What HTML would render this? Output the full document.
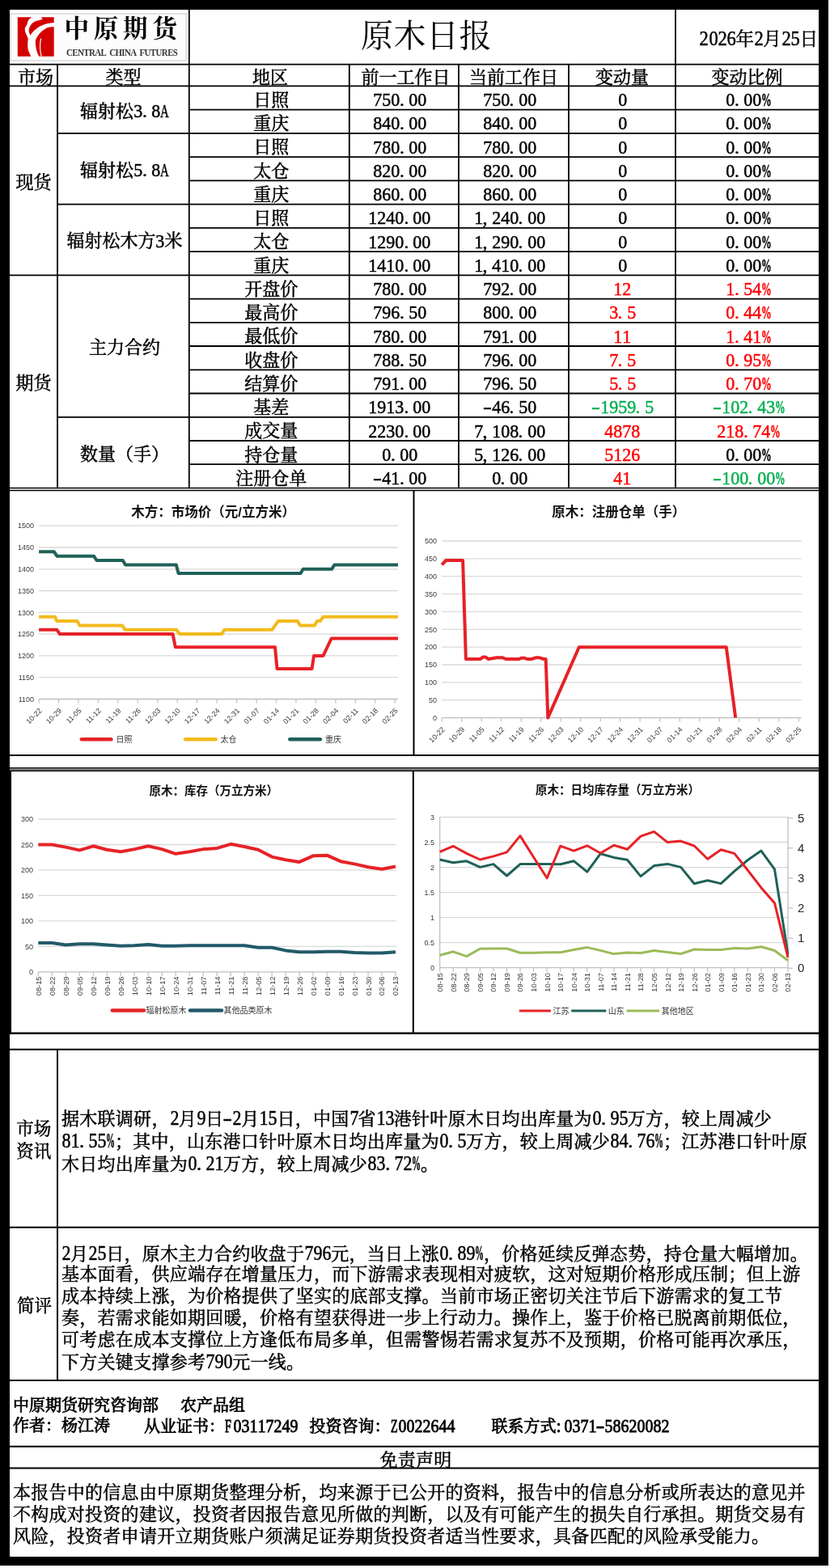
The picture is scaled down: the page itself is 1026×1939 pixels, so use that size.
<!DOCTYPE html>
<html><head><meta charset="utf-8"><title>原木日报</title><style>
html,body{margin:0;padding:0;background:#fff;}
body{width:1026px;height:1939px;position:relative;overflow:hidden;font-family:'Liberation Serif','Noto Serif CJK SC',serif;color:#000;}
svg.bg{position:absolute;left:0;top:0;}
.c{position:absolute;display:flex;align-items:center;justify-content:center;white-space:nowrap;font-size:22px;line-height:1;-webkit-text-stroke:.5px currentColor;}
.t{position:absolute;white-space:nowrap;line-height:1;}
i{font-style:normal;}
.h1,.h2{display:inline-block;text-align:center;line-height:1;}
.h1{font-size:1.064em;width:.47em;transform:scaleX(.94);}
.h2{font-size:1.11em;width:.45em;transform:scaleX(.9);}
.hl{text-align:left;transform:none;}
.hpc{transform:scaleX(.45);transform-origin:0 50%;font-weight:bold;}
.h1.hpc{transform:scaleX(.54);}
.hal{transform:scaleX(.64);transform-origin:0 50%;}
.hmn{transform:scaleX(1.4);}
.th{font-size:22px;}
.td{font-size:22px;}
.tb{}
.logo{font-family:'Liberation Serif','Noto Serif CJK SC',serif;font-weight:700;font-size:30.5px;letter-spacing:5.8px;line-height:1;}
.logoen{font-family:'Liberation Serif',serif;font-weight:bold;font-size:12px;color:#333;letter-spacing:-0.6px;word-spacing:2.5px;transform:scaleX(.905);transform-origin:0 0;}
.title{font-family:'Liberation Serif','Noto Serif CJK SC',serif;font-size:40px;letter-spacing:0.5px;}
.date{font-size:22.6px;-webkit-text-stroke:.5px #000;}
.lab{font-size:21.5px;line-height:28px;-webkit-text-stroke:.5px #000;}
.para{font-size:22px;letter-spacing:.28px;-webkit-text-stroke:.5px #000;}
.foot{font-size:20px;-webkit-text-stroke:.8px #000;}
.disc{font-size:22px;letter-spacing:.27px;-webkit-text-stroke:.5px #000;}
</style></head>
<body>
<svg class="bg" width="1026" height="1939" viewBox="0 0 1026 1939">
<rect x="0.0" y="0.0" width="1024.0" height="1936.0" fill="#000"/>
<rect x="12.0" y="12.0" width="1000.0" height="1913.0" fill="#fff"/>
<line x1="233.8" y1="12.0" x2="233.8" y2="603.5" stroke="#000" stroke-width="1.8"/>
<line x1="835.0" y1="12.0" x2="835.0" y2="603.5" stroke="#000" stroke-width="1.8"/>
<line x1="71.0" y1="79.6" x2="71.0" y2="603.5" stroke="#000" stroke-width="1.8"/>
<line x1="431.8" y1="79.6" x2="431.8" y2="603.5" stroke="#000" stroke-width="1.8"/>
<line x1="567.0" y1="79.6" x2="567.0" y2="603.5" stroke="#000" stroke-width="1.8"/>
<line x1="703.0" y1="79.6" x2="703.0" y2="603.5" stroke="#000" stroke-width="1.8"/>
<line x1="12.0" y1="79.6" x2="1012.0" y2="79.6" stroke="#000" stroke-width="1.8"/>
<line x1="12.0" y1="106.4" x2="1012.0" y2="106.4" stroke="#000" stroke-width="1.8"/>
<line x1="233.8" y1="135.6" x2="1012.0" y2="135.6" stroke="#000" stroke-width="1.8"/>
<line x1="71.0" y1="164.9" x2="1012.0" y2="164.9" stroke="#000" stroke-width="1.8"/>
<line x1="233.8" y1="194.1" x2="1012.0" y2="194.1" stroke="#000" stroke-width="1.8"/>
<line x1="233.8" y1="223.4" x2="1012.0" y2="223.4" stroke="#000" stroke-width="1.8"/>
<line x1="71.0" y1="252.6" x2="1012.0" y2="252.6" stroke="#000" stroke-width="1.8"/>
<line x1="233.8" y1="281.8" x2="1012.0" y2="281.8" stroke="#000" stroke-width="1.8"/>
<line x1="233.8" y1="311.1" x2="1012.0" y2="311.1" stroke="#000" stroke-width="1.8"/>
<line x1="12.0" y1="340.3" x2="1012.0" y2="340.3" stroke="#000" stroke-width="1.8"/>
<line x1="233.8" y1="369.6" x2="1012.0" y2="369.6" stroke="#000" stroke-width="1.8"/>
<line x1="233.8" y1="398.8" x2="1012.0" y2="398.8" stroke="#000" stroke-width="1.8"/>
<line x1="233.8" y1="428.0" x2="1012.0" y2="428.0" stroke="#000" stroke-width="1.8"/>
<line x1="233.8" y1="457.3" x2="1012.0" y2="457.3" stroke="#000" stroke-width="1.8"/>
<line x1="233.8" y1="486.5" x2="1012.0" y2="486.5" stroke="#000" stroke-width="1.8"/>
<line x1="71.0" y1="515.8" x2="1012.0" y2="515.8" stroke="#000" stroke-width="1.8"/>
<line x1="233.8" y1="545.0" x2="1012.0" y2="545.0" stroke="#000" stroke-width="1.8"/>
<line x1="233.8" y1="574.2" x2="1012.0" y2="574.2" stroke="#000" stroke-width="1.8"/>
<line x1="12.0" y1="603.5" x2="1012.0" y2="603.5" stroke="#000" stroke-width="1.6"/>
<line x1="12.0" y1="606.5" x2="1012.0" y2="606.5" stroke="#000" stroke-width="1.6"/>
<rect x="13.0" y="17.0" width="217.0" height="58.0" fill="#fdfdfd" stroke="#d8d8d8" stroke-width="1.5"/>
<g>
<path d="M21.8,21.3 L39.3,21.3 C37,23 35,24.5 34.7,25.6 L33.2,30.7 C31.5,33 30.7,34.5 30.7,35.7 C30.9,38 31.2,39.5 31.7,40.8 C33,44 34.5,46.5 34.7,48.4 L34.2,53.5 C34.1,57 34.3,59 34.7,61.1 C35.5,64.5 36.8,67 38.3,69.7 L21.8,69.7 Z" fill="#d40000"/>
<path d="M50.9,21.3 L66.7,21.3 L66.7,28.1 C61,28.5 57,29.3 53.5,30.7 C50.5,31.8 48,33.2 45.9,34.7 C43.9,36.1 42.2,37.6 40.8,39.3 C39.3,41 38.2,42.4 37.3,43.8 C36.5,42 35.9,40.2 35.7,38.3 C35.6,36 36.2,34 37.3,32.2 C38.3,30.5 39.4,29.2 40.8,28.1 C42.5,26.8 44.3,26.1 46.4,25.6 C48.4,25 50.4,24.5 52.5,24.1 C52.2,23 51.6,22.2 50.9,21.3 Z" fill="#d40000"/>
<path d="M66.7,33.2 L66.7,69.7 L48.4,69.7 C47.3,68.5 46.8,67.3 46.4,66.1 C45.4,63.5 44.7,61 44.4,58.5 C44,56 43.8,53.5 43.8,51 C44,48.8 44.9,46.8 46.4,44.9 C47.6,43 49.2,41 51,39.3 C53.5,37 56,35.4 58.5,34.2 C61,33.5 63.5,33.2 66.7,33.2 Z" fill="#d40000"/>
<path d="M50.6,47.5 C49.6,52 49.4,56 49.6,60 C49.8,64 50.4,67 51.2,69.7" fill="none" stroke="#f4dede" stroke-width="1.4"/>
</g>
<line x1="12.0" y1="934.0" x2="1012.0" y2="934.0" stroke="#000" stroke-width="2"/>
<line x1="511.5" y1="606.5" x2="511.5" y2="934.0" stroke="#000" stroke-width="2"/>
<line x1="12.0" y1="949.8" x2="1012.0" y2="949.8" stroke="#000" stroke-width="1.5"/>
<line x1="12.0" y1="951.6" x2="1012.0" y2="951.6" stroke="#777" stroke-width="2"/>
<line x1="12.0" y1="953.3" x2="1012.0" y2="953.3" stroke="#000" stroke-width="1.5"/>
<line x1="510.8" y1="953.0" x2="510.8" y2="1277.7" stroke="#000" stroke-width="2"/>
<rect x="12.0" y="953.0" width="2.0" height="325.0" fill="#000"/>
<line x1="12.0" y1="1277.7" x2="1012.0" y2="1277.7" stroke="#000" stroke-width="2.4"/>
<line x1="12.0" y1="1297.7" x2="1012.0" y2="1297.7" stroke="#000" stroke-width="2"/>
<line x1="71.0" y1="1297.7" x2="71.0" y2="1707.0" stroke="#000" stroke-width="2"/>
<line x1="12.0" y1="1517.7" x2="1012.0" y2="1517.7" stroke="#000" stroke-width="2"/>
<line x1="12.0" y1="1707.0" x2="1012.0" y2="1707.0" stroke="#000" stroke-width="2"/>
<line x1="12.0" y1="1788.8" x2="1012.0" y2="1788.8" stroke="#000" stroke-width="2"/>
<line x1="12.0" y1="1815.5" x2="1012.0" y2="1815.5" stroke="#000" stroke-width="2"/>
<line x1="48.1" y1="837.7" x2="492.0" y2="837.7" stroke="#d9d9d9" stroke-width="1.3"/>
<line x1="48.1" y1="810.9" x2="492.0" y2="810.9" stroke="#d9d9d9" stroke-width="1.3"/>
<line x1="48.1" y1="784.1" x2="492.0" y2="784.1" stroke="#d9d9d9" stroke-width="1.3"/>
<line x1="48.1" y1="757.3" x2="492.0" y2="757.3" stroke="#d9d9d9" stroke-width="1.3"/>
<line x1="48.1" y1="730.5" x2="492.0" y2="730.5" stroke="#d9d9d9" stroke-width="1.3"/>
<line x1="48.1" y1="703.8" x2="492.0" y2="703.8" stroke="#d9d9d9" stroke-width="1.3"/>
<line x1="48.1" y1="677.0" x2="492.0" y2="677.0" stroke="#d9d9d9" stroke-width="1.3"/>
<line x1="48.1" y1="650.2" x2="492.0" y2="650.2" stroke="#d9d9d9" stroke-width="1.3"/>
<text x="42.0" y="867.7" font-size="9" text-anchor="end" fill="#3a3a3a" font-family="'Liberation Sans','Noto Sans CJK SC',sans-serif" font-weight="normal">1100</text>
<text x="42.0" y="840.9" font-size="9" text-anchor="end" fill="#3a3a3a" font-family="'Liberation Sans','Noto Sans CJK SC',sans-serif" font-weight="normal">1150</text>
<text x="42.0" y="814.1" font-size="9" text-anchor="end" fill="#3a3a3a" font-family="'Liberation Sans','Noto Sans CJK SC',sans-serif" font-weight="normal">1200</text>
<text x="42.0" y="787.3" font-size="9" text-anchor="end" fill="#3a3a3a" font-family="'Liberation Sans','Noto Sans CJK SC',sans-serif" font-weight="normal">1250</text>
<text x="42.0" y="760.5" font-size="9" text-anchor="end" fill="#3a3a3a" font-family="'Liberation Sans','Noto Sans CJK SC',sans-serif" font-weight="normal">1300</text>
<text x="42.0" y="733.8" font-size="9" text-anchor="end" fill="#3a3a3a" font-family="'Liberation Sans','Noto Sans CJK SC',sans-serif" font-weight="normal">1350</text>
<text x="42.0" y="707.0" font-size="9" text-anchor="end" fill="#3a3a3a" font-family="'Liberation Sans','Noto Sans CJK SC',sans-serif" font-weight="normal">1400</text>
<text x="42.0" y="680.2" font-size="9" text-anchor="end" fill="#3a3a3a" font-family="'Liberation Sans','Noto Sans CJK SC',sans-serif" font-weight="normal">1450</text>
<text x="42.0" y="653.4" font-size="9" text-anchor="end" fill="#3a3a3a" font-family="'Liberation Sans','Noto Sans CJK SC',sans-serif" font-weight="normal">1500</text>
<line x1="48.1" y1="864.5" x2="492.0" y2="864.5" stroke="#bfbfbf" stroke-width="1.3"/>
<line x1="48.1" y1="864.5" x2="48.1" y2="869.5" stroke="#bfbfbf" stroke-width="1.2"/>
<text x="52.3" y="879.5" font-size="9" text-anchor="end" fill="#3a3a3a" font-family="'Liberation Sans','Noto Sans CJK SC',sans-serif" font-weight="normal" transform="rotate(-45 52.3 879.5)">10-22</text>
<line x1="72.5" y1="864.5" x2="72.5" y2="869.5" stroke="#bfbfbf" stroke-width="1.2"/>
<text x="76.8" y="879.5" font-size="9" text-anchor="end" fill="#3a3a3a" font-family="'Liberation Sans','Noto Sans CJK SC',sans-serif" font-weight="normal" transform="rotate(-45 76.8 879.5)">10-29</text>
<line x1="97.0" y1="864.5" x2="97.0" y2="869.5" stroke="#bfbfbf" stroke-width="1.2"/>
<text x="101.2" y="879.5" font-size="9" text-anchor="end" fill="#3a3a3a" font-family="'Liberation Sans','Noto Sans CJK SC',sans-serif" font-weight="normal" transform="rotate(-45 101.2 879.5)">11-05</text>
<line x1="121.4" y1="864.5" x2="121.4" y2="869.5" stroke="#bfbfbf" stroke-width="1.2"/>
<text x="125.6" y="879.5" font-size="9" text-anchor="end" fill="#3a3a3a" font-family="'Liberation Sans','Noto Sans CJK SC',sans-serif" font-weight="normal" transform="rotate(-45 125.6 879.5)">11-12</text>
<line x1="145.9" y1="864.5" x2="145.9" y2="869.5" stroke="#bfbfbf" stroke-width="1.2"/>
<text x="150.1" y="879.5" font-size="9" text-anchor="end" fill="#3a3a3a" font-family="'Liberation Sans','Noto Sans CJK SC',sans-serif" font-weight="normal" transform="rotate(-45 150.1 879.5)">11-19</text>
<line x1="170.3" y1="864.5" x2="170.3" y2="869.5" stroke="#bfbfbf" stroke-width="1.2"/>
<text x="174.5" y="879.5" font-size="9" text-anchor="end" fill="#3a3a3a" font-family="'Liberation Sans','Noto Sans CJK SC',sans-serif" font-weight="normal" transform="rotate(-45 174.5 879.5)">11-26</text>
<line x1="194.8" y1="864.5" x2="194.8" y2="869.5" stroke="#bfbfbf" stroke-width="1.2"/>
<text x="199.0" y="879.5" font-size="9" text-anchor="end" fill="#3a3a3a" font-family="'Liberation Sans','Noto Sans CJK SC',sans-serif" font-weight="normal" transform="rotate(-45 199.0 879.5)">12-03</text>
<line x1="219.2" y1="864.5" x2="219.2" y2="869.5" stroke="#bfbfbf" stroke-width="1.2"/>
<text x="223.4" y="879.5" font-size="9" text-anchor="end" fill="#3a3a3a" font-family="'Liberation Sans','Noto Sans CJK SC',sans-serif" font-weight="normal" transform="rotate(-45 223.4 879.5)">12-10</text>
<line x1="243.7" y1="864.5" x2="243.7" y2="869.5" stroke="#bfbfbf" stroke-width="1.2"/>
<text x="247.9" y="879.5" font-size="9" text-anchor="end" fill="#3a3a3a" font-family="'Liberation Sans','Noto Sans CJK SC',sans-serif" font-weight="normal" transform="rotate(-45 247.9 879.5)">12-17</text>
<line x1="268.1" y1="864.5" x2="268.1" y2="869.5" stroke="#bfbfbf" stroke-width="1.2"/>
<text x="272.3" y="879.5" font-size="9" text-anchor="end" fill="#3a3a3a" font-family="'Liberation Sans','Noto Sans CJK SC',sans-serif" font-weight="normal" transform="rotate(-45 272.3 879.5)">12-24</text>
<line x1="292.6" y1="864.5" x2="292.6" y2="869.5" stroke="#bfbfbf" stroke-width="1.2"/>
<text x="296.8" y="879.5" font-size="9" text-anchor="end" fill="#3a3a3a" font-family="'Liberation Sans','Noto Sans CJK SC',sans-serif" font-weight="normal" transform="rotate(-45 296.8 879.5)">12-31</text>
<line x1="317.1" y1="864.5" x2="317.1" y2="869.5" stroke="#bfbfbf" stroke-width="1.2"/>
<text x="321.2" y="879.5" font-size="9" text-anchor="end" fill="#3a3a3a" font-family="'Liberation Sans','Noto Sans CJK SC',sans-serif" font-weight="normal" transform="rotate(-45 321.2 879.5)">01-07</text>
<line x1="341.5" y1="864.5" x2="341.5" y2="869.5" stroke="#bfbfbf" stroke-width="1.2"/>
<text x="345.7" y="879.5" font-size="9" text-anchor="end" fill="#3a3a3a" font-family="'Liberation Sans','Noto Sans CJK SC',sans-serif" font-weight="normal" transform="rotate(-45 345.7 879.5)">01-14</text>
<line x1="365.9" y1="864.5" x2="365.9" y2="869.5" stroke="#bfbfbf" stroke-width="1.2"/>
<text x="370.1" y="879.5" font-size="9" text-anchor="end" fill="#3a3a3a" font-family="'Liberation Sans','Noto Sans CJK SC',sans-serif" font-weight="normal" transform="rotate(-45 370.1 879.5)">01-21</text>
<line x1="390.4" y1="864.5" x2="390.4" y2="869.5" stroke="#bfbfbf" stroke-width="1.2"/>
<text x="394.6" y="879.5" font-size="9" text-anchor="end" fill="#3a3a3a" font-family="'Liberation Sans','Noto Sans CJK SC',sans-serif" font-weight="normal" transform="rotate(-45 394.6 879.5)">01-28</text>
<line x1="414.9" y1="864.5" x2="414.9" y2="869.5" stroke="#bfbfbf" stroke-width="1.2"/>
<text x="419.1" y="879.5" font-size="9" text-anchor="end" fill="#3a3a3a" font-family="'Liberation Sans','Noto Sans CJK SC',sans-serif" font-weight="normal" transform="rotate(-45 419.1 879.5)">02-04</text>
<line x1="439.3" y1="864.5" x2="439.3" y2="869.5" stroke="#bfbfbf" stroke-width="1.2"/>
<text x="443.5" y="879.5" font-size="9" text-anchor="end" fill="#3a3a3a" font-family="'Liberation Sans','Noto Sans CJK SC',sans-serif" font-weight="normal" transform="rotate(-45 443.5 879.5)">02-11</text>
<line x1="463.8" y1="864.5" x2="463.8" y2="869.5" stroke="#bfbfbf" stroke-width="1.2"/>
<text x="467.9" y="879.5" font-size="9" text-anchor="end" fill="#3a3a3a" font-family="'Liberation Sans','Noto Sans CJK SC',sans-serif" font-weight="normal" transform="rotate(-45 467.9 879.5)">02-18</text>
<line x1="488.2" y1="864.5" x2="488.2" y2="869.5" stroke="#bfbfbf" stroke-width="1.2"/>
<text x="492.4" y="879.5" font-size="9" text-anchor="end" fill="#3a3a3a" font-family="'Liberation Sans','Noto Sans CJK SC',sans-serif" font-weight="normal" transform="rotate(-45 492.4 879.5)">02-25</text>
<text x="263.6" y="638.5" font-size="16.5" text-anchor="middle" fill="#111" font-family="'Liberation Sans','Noto Sans CJK SC',sans-serif" font-weight="bold">木方：市场价（元/立方米）</text>
<polyline points="48.1,778.8 70.4,778.8 74.0,784.1 213.6,784.1 216.8,800.2 340.0,800.2 342.5,827.0 385.6,827.0 388.0,810.9 399.5,810.9 409.7,789.5 492.0,789.5" fill="none" stroke="#e62227" stroke-width="4" stroke-linejoin="round" stroke-linecap="butt"/>
<polyline points="48.1,762.7 68.0,762.7 70.4,768.1 95.4,768.1 98.5,773.4 151.0,773.4 154.6,778.8 218.2,778.8 222.0,784.1 274.0,784.1 277.4,778.8 336.2,778.8 343.8,768.1 367.8,768.1 371.1,773.4 388.9,773.4 392.0,768.1 395.7,768.1 399.5,762.7 492.0,762.7" fill="none" stroke="#f2ba1c" stroke-width="4" stroke-linejoin="round" stroke-linecap="butt"/>
<polyline points="48.1,682.3 66.9,682.3 70.4,687.7 116.0,687.7 119.5,693.0 151.8,693.0 155.0,698.4 217.8,698.4 220.6,709.1 371.6,709.1 374.7,703.8 410.2,703.8 413.5,698.4 492.0,698.4" fill="none" stroke="#1f6158" stroke-width="4" stroke-linejoin="round" stroke-linecap="butt"/>
<line x1="100.8" y1="914.2" x2="137.4" y2="914.2" stroke="#e62227" stroke-width="4.5" stroke-linecap="round"/>
<text x="143.5" y="918.0" font-size="10" text-anchor="start" fill="#333" font-family="'Liberation Sans','Noto Sans CJK SC',sans-serif" font-weight="normal">日照</text>
<line x1="229.0" y1="914.2" x2="266.6" y2="914.2" stroke="#f2ba1c" stroke-width="4.5" stroke-linecap="round"/>
<text x="272.5" y="918.0" font-size="10" text-anchor="start" fill="#333" font-family="'Liberation Sans','Noto Sans CJK SC',sans-serif" font-weight="normal">太仓</text>
<line x1="358.3" y1="914.2" x2="395.9" y2="914.2" stroke="#1f6158" stroke-width="4.5" stroke-linecap="round"/>
<text x="401.9" y="918.0" font-size="10" text-anchor="start" fill="#333" font-family="'Liberation Sans','Noto Sans CJK SC',sans-serif" font-weight="normal">重庆</text>
<line x1="546.2" y1="865.7" x2="990.8" y2="865.7" stroke="#d9d9d9" stroke-width="1.3"/>
<line x1="546.2" y1="843.9" x2="990.8" y2="843.9" stroke="#d9d9d9" stroke-width="1.3"/>
<line x1="546.2" y1="822.0" x2="990.8" y2="822.0" stroke="#d9d9d9" stroke-width="1.3"/>
<line x1="546.2" y1="800.2" x2="990.8" y2="800.2" stroke="#d9d9d9" stroke-width="1.3"/>
<line x1="546.2" y1="778.3" x2="990.8" y2="778.3" stroke="#d9d9d9" stroke-width="1.3"/>
<line x1="546.2" y1="756.4" x2="990.8" y2="756.4" stroke="#d9d9d9" stroke-width="1.3"/>
<line x1="546.2" y1="734.6" x2="990.8" y2="734.6" stroke="#d9d9d9" stroke-width="1.3"/>
<line x1="546.2" y1="712.7" x2="990.8" y2="712.7" stroke="#d9d9d9" stroke-width="1.3"/>
<line x1="546.2" y1="690.9" x2="990.8" y2="690.9" stroke="#d9d9d9" stroke-width="1.3"/>
<line x1="546.2" y1="669.0" x2="990.8" y2="669.0" stroke="#d9d9d9" stroke-width="1.3"/>
<text x="540.0" y="890.8" font-size="9" text-anchor="end" fill="#3a3a3a" font-family="'Liberation Sans','Noto Sans CJK SC',sans-serif" font-weight="normal">0</text>
<text x="540.0" y="868.9" font-size="9" text-anchor="end" fill="#3a3a3a" font-family="'Liberation Sans','Noto Sans CJK SC',sans-serif" font-weight="normal">50</text>
<text x="540.0" y="847.1" font-size="9" text-anchor="end" fill="#3a3a3a" font-family="'Liberation Sans','Noto Sans CJK SC',sans-serif" font-weight="normal">100</text>
<text x="540.0" y="825.2" font-size="9" text-anchor="end" fill="#3a3a3a" font-family="'Liberation Sans','Noto Sans CJK SC',sans-serif" font-weight="normal">150</text>
<text x="540.0" y="803.4" font-size="9" text-anchor="end" fill="#3a3a3a" font-family="'Liberation Sans','Noto Sans CJK SC',sans-serif" font-weight="normal">200</text>
<text x="540.0" y="781.5" font-size="9" text-anchor="end" fill="#3a3a3a" font-family="'Liberation Sans','Noto Sans CJK SC',sans-serif" font-weight="normal">250</text>
<text x="540.0" y="759.6" font-size="9" text-anchor="end" fill="#3a3a3a" font-family="'Liberation Sans','Noto Sans CJK SC',sans-serif" font-weight="normal">300</text>
<text x="540.0" y="737.8" font-size="9" text-anchor="end" fill="#3a3a3a" font-family="'Liberation Sans','Noto Sans CJK SC',sans-serif" font-weight="normal">350</text>
<text x="540.0" y="715.9" font-size="9" text-anchor="end" fill="#3a3a3a" font-family="'Liberation Sans','Noto Sans CJK SC',sans-serif" font-weight="normal">400</text>
<text x="540.0" y="694.1" font-size="9" text-anchor="end" fill="#3a3a3a" font-family="'Liberation Sans','Noto Sans CJK SC',sans-serif" font-weight="normal">450</text>
<text x="540.0" y="672.2" font-size="9" text-anchor="end" fill="#3a3a3a" font-family="'Liberation Sans','Noto Sans CJK SC',sans-serif" font-weight="normal">500</text>
<line x1="546.2" y1="887.6" x2="990.8" y2="887.6" stroke="#bfbfbf" stroke-width="1.3"/>
<line x1="546.2" y1="887.6" x2="546.2" y2="892.6" stroke="#bfbfbf" stroke-width="1.2"/>
<text x="550.4" y="902.6" font-size="9" text-anchor="end" fill="#3a3a3a" font-family="'Liberation Sans','Noto Sans CJK SC',sans-serif" font-weight="normal" transform="rotate(-45 550.4 902.6)">10-22</text>
<line x1="570.7" y1="887.6" x2="570.7" y2="892.6" stroke="#bfbfbf" stroke-width="1.2"/>
<text x="574.9" y="902.6" font-size="9" text-anchor="end" fill="#3a3a3a" font-family="'Liberation Sans','Noto Sans CJK SC',sans-serif" font-weight="normal" transform="rotate(-45 574.9 902.6)">10-29</text>
<line x1="595.2" y1="887.6" x2="595.2" y2="892.6" stroke="#bfbfbf" stroke-width="1.2"/>
<text x="599.4" y="902.6" font-size="9" text-anchor="end" fill="#3a3a3a" font-family="'Liberation Sans','Noto Sans CJK SC',sans-serif" font-weight="normal" transform="rotate(-45 599.4 902.6)">11-05</text>
<line x1="619.7" y1="887.6" x2="619.7" y2="892.6" stroke="#bfbfbf" stroke-width="1.2"/>
<text x="623.9" y="902.6" font-size="9" text-anchor="end" fill="#3a3a3a" font-family="'Liberation Sans','Noto Sans CJK SC',sans-serif" font-weight="normal" transform="rotate(-45 623.9 902.6)">11-12</text>
<line x1="644.2" y1="887.6" x2="644.2" y2="892.6" stroke="#bfbfbf" stroke-width="1.2"/>
<text x="648.4" y="902.6" font-size="9" text-anchor="end" fill="#3a3a3a" font-family="'Liberation Sans','Noto Sans CJK SC',sans-serif" font-weight="normal" transform="rotate(-45 648.4 902.6)">11-19</text>
<line x1="668.7" y1="887.6" x2="668.7" y2="892.6" stroke="#bfbfbf" stroke-width="1.2"/>
<text x="672.9" y="902.6" font-size="9" text-anchor="end" fill="#3a3a3a" font-family="'Liberation Sans','Noto Sans CJK SC',sans-serif" font-weight="normal" transform="rotate(-45 672.9 902.6)">11-26</text>
<line x1="693.2" y1="887.6" x2="693.2" y2="892.6" stroke="#bfbfbf" stroke-width="1.2"/>
<text x="697.4" y="902.6" font-size="9" text-anchor="end" fill="#3a3a3a" font-family="'Liberation Sans','Noto Sans CJK SC',sans-serif" font-weight="normal" transform="rotate(-45 697.4 902.6)">12-03</text>
<line x1="717.7" y1="887.6" x2="717.7" y2="892.6" stroke="#bfbfbf" stroke-width="1.2"/>
<text x="721.9" y="902.6" font-size="9" text-anchor="end" fill="#3a3a3a" font-family="'Liberation Sans','Noto Sans CJK SC',sans-serif" font-weight="normal" transform="rotate(-45 721.9 902.6)">12-10</text>
<line x1="742.2" y1="887.6" x2="742.2" y2="892.6" stroke="#bfbfbf" stroke-width="1.2"/>
<text x="746.4" y="902.6" font-size="9" text-anchor="end" fill="#3a3a3a" font-family="'Liberation Sans','Noto Sans CJK SC',sans-serif" font-weight="normal" transform="rotate(-45 746.4 902.6)">12-17</text>
<line x1="766.7" y1="887.6" x2="766.7" y2="892.6" stroke="#bfbfbf" stroke-width="1.2"/>
<text x="770.9" y="902.6" font-size="9" text-anchor="end" fill="#3a3a3a" font-family="'Liberation Sans','Noto Sans CJK SC',sans-serif" font-weight="normal" transform="rotate(-45 770.9 902.6)">12-24</text>
<line x1="791.2" y1="887.6" x2="791.2" y2="892.6" stroke="#bfbfbf" stroke-width="1.2"/>
<text x="795.4" y="902.6" font-size="9" text-anchor="end" fill="#3a3a3a" font-family="'Liberation Sans','Noto Sans CJK SC',sans-serif" font-weight="normal" transform="rotate(-45 795.4 902.6)">12-31</text>
<line x1="815.7" y1="887.6" x2="815.7" y2="892.6" stroke="#bfbfbf" stroke-width="1.2"/>
<text x="819.9" y="902.6" font-size="9" text-anchor="end" fill="#3a3a3a" font-family="'Liberation Sans','Noto Sans CJK SC',sans-serif" font-weight="normal" transform="rotate(-45 819.9 902.6)">01-07</text>
<line x1="840.2" y1="887.6" x2="840.2" y2="892.6" stroke="#bfbfbf" stroke-width="1.2"/>
<text x="844.4" y="902.6" font-size="9" text-anchor="end" fill="#3a3a3a" font-family="'Liberation Sans','Noto Sans CJK SC',sans-serif" font-weight="normal" transform="rotate(-45 844.4 902.6)">01-14</text>
<line x1="864.7" y1="887.6" x2="864.7" y2="892.6" stroke="#bfbfbf" stroke-width="1.2"/>
<text x="868.9" y="902.6" font-size="9" text-anchor="end" fill="#3a3a3a" font-family="'Liberation Sans','Noto Sans CJK SC',sans-serif" font-weight="normal" transform="rotate(-45 868.9 902.6)">01-21</text>
<line x1="889.2" y1="887.6" x2="889.2" y2="892.6" stroke="#bfbfbf" stroke-width="1.2"/>
<text x="893.4" y="902.6" font-size="9" text-anchor="end" fill="#3a3a3a" font-family="'Liberation Sans','Noto Sans CJK SC',sans-serif" font-weight="normal" transform="rotate(-45 893.4 902.6)">01-28</text>
<line x1="913.7" y1="887.6" x2="913.7" y2="892.6" stroke="#bfbfbf" stroke-width="1.2"/>
<text x="917.9" y="902.6" font-size="9" text-anchor="end" fill="#3a3a3a" font-family="'Liberation Sans','Noto Sans CJK SC',sans-serif" font-weight="normal" transform="rotate(-45 917.9 902.6)">02-04</text>
<line x1="938.2" y1="887.6" x2="938.2" y2="892.6" stroke="#bfbfbf" stroke-width="1.2"/>
<text x="942.4" y="902.6" font-size="9" text-anchor="end" fill="#3a3a3a" font-family="'Liberation Sans','Noto Sans CJK SC',sans-serif" font-weight="normal" transform="rotate(-45 942.4 902.6)">02-11</text>
<line x1="962.7" y1="887.6" x2="962.7" y2="892.6" stroke="#bfbfbf" stroke-width="1.2"/>
<text x="966.9" y="902.6" font-size="9" text-anchor="end" fill="#3a3a3a" font-family="'Liberation Sans','Noto Sans CJK SC',sans-serif" font-weight="normal" transform="rotate(-45 966.9 902.6)">02-18</text>
<line x1="987.2" y1="887.6" x2="987.2" y2="892.6" stroke="#bfbfbf" stroke-width="1.2"/>
<text x="991.4" y="902.6" font-size="9" text-anchor="end" fill="#3a3a3a" font-family="'Liberation Sans','Noto Sans CJK SC',sans-serif" font-weight="normal" transform="rotate(-45 991.4 902.6)">02-25</text>
<text x="764.8" y="638.7" font-size="16.5" text-anchor="middle" fill="#111" font-family="'Liberation Sans','Noto Sans CJK SC',sans-serif" font-weight="bold">原木：注册仓单（手）</text>
<polyline points="546.2,698.3 551.3,693.0 572.1,693.0 575.9,815.0 593.6,815.0 597.4,812.4 600.0,812.4 603.8,815.0 614.0,813.3 621.5,813.3 625.3,815.0 641.8,815.0 644.3,813.7 648.0,813.7 651.5,815.0 657.0,815.0 662.0,813.3 667.0,813.3 672.2,815.0 674.7,815.0 677.3,887.6 715.8,800.2 897.8,800.2 909.2,887.6" fill="none" stroke="#e62227" stroke-width="4" stroke-linejoin="round" stroke-linecap="butt"/>
<line x1="47.3" y1="1170.4" x2="490.0" y2="1170.4" stroke="#d9d9d9" stroke-width="1.3"/>
<line x1="47.3" y1="1138.9" x2="490.0" y2="1138.9" stroke="#d9d9d9" stroke-width="1.3"/>
<line x1="47.3" y1="1107.4" x2="490.0" y2="1107.4" stroke="#d9d9d9" stroke-width="1.3"/>
<line x1="47.3" y1="1075.9" x2="490.0" y2="1075.9" stroke="#d9d9d9" stroke-width="1.3"/>
<line x1="47.3" y1="1044.5" x2="490.0" y2="1044.5" stroke="#d9d9d9" stroke-width="1.3"/>
<line x1="47.3" y1="1013.0" x2="490.0" y2="1013.0" stroke="#d9d9d9" stroke-width="1.3"/>
<text x="41.0" y="1205.1" font-size="9" text-anchor="end" fill="#3a3a3a" font-family="'Liberation Sans','Noto Sans CJK SC',sans-serif" font-weight="normal">0</text>
<text x="41.0" y="1173.6" font-size="9" text-anchor="end" fill="#3a3a3a" font-family="'Liberation Sans','Noto Sans CJK SC',sans-serif" font-weight="normal">50</text>
<text x="41.0" y="1142.1" font-size="9" text-anchor="end" fill="#3a3a3a" font-family="'Liberation Sans','Noto Sans CJK SC',sans-serif" font-weight="normal">100</text>
<text x="41.0" y="1110.6" font-size="9" text-anchor="end" fill="#3a3a3a" font-family="'Liberation Sans','Noto Sans CJK SC',sans-serif" font-weight="normal">150</text>
<text x="41.0" y="1079.1" font-size="9" text-anchor="end" fill="#3a3a3a" font-family="'Liberation Sans','Noto Sans CJK SC',sans-serif" font-weight="normal">200</text>
<text x="41.0" y="1047.7" font-size="9" text-anchor="end" fill="#3a3a3a" font-family="'Liberation Sans','Noto Sans CJK SC',sans-serif" font-weight="normal">250</text>
<text x="41.0" y="1016.2" font-size="9" text-anchor="end" fill="#3a3a3a" font-family="'Liberation Sans','Noto Sans CJK SC',sans-serif" font-weight="normal">300</text>
<line x1="47.3" y1="1201.9" x2="490.0" y2="1201.9" stroke="#bfbfbf" stroke-width="1.3"/>
<line x1="47.3" y1="1201.9" x2="47.3" y2="1206.9" stroke="#bfbfbf" stroke-width="1.2"/>
<text x="50.7" y="1207.5" font-size="9.3" text-anchor="end" fill="#3a3a3a" font-family="'Liberation Sans','Noto Sans CJK SC',sans-serif" font-weight="normal" transform="rotate(-90 50.7 1207.5)">08-15</text>
<line x1="64.3" y1="1201.9" x2="64.3" y2="1206.9" stroke="#bfbfbf" stroke-width="1.2"/>
<text x="67.7" y="1207.5" font-size="9.3" text-anchor="end" fill="#3a3a3a" font-family="'Liberation Sans','Noto Sans CJK SC',sans-serif" font-weight="normal" transform="rotate(-90 67.7 1207.5)">08-22</text>
<line x1="81.3" y1="1201.9" x2="81.3" y2="1206.9" stroke="#bfbfbf" stroke-width="1.2"/>
<text x="84.7" y="1207.5" font-size="9.3" text-anchor="end" fill="#3a3a3a" font-family="'Liberation Sans','Noto Sans CJK SC',sans-serif" font-weight="normal" transform="rotate(-90 84.7 1207.5)">08-29</text>
<line x1="98.3" y1="1201.9" x2="98.3" y2="1206.9" stroke="#bfbfbf" stroke-width="1.2"/>
<text x="101.7" y="1207.5" font-size="9.3" text-anchor="end" fill="#3a3a3a" font-family="'Liberation Sans','Noto Sans CJK SC',sans-serif" font-weight="normal" transform="rotate(-90 101.7 1207.5)">09-05</text>
<line x1="115.3" y1="1201.9" x2="115.3" y2="1206.9" stroke="#bfbfbf" stroke-width="1.2"/>
<text x="118.7" y="1207.5" font-size="9.3" text-anchor="end" fill="#3a3a3a" font-family="'Liberation Sans','Noto Sans CJK SC',sans-serif" font-weight="normal" transform="rotate(-90 118.7 1207.5)">09-12</text>
<line x1="132.2" y1="1201.9" x2="132.2" y2="1206.9" stroke="#bfbfbf" stroke-width="1.2"/>
<text x="135.7" y="1207.5" font-size="9.3" text-anchor="end" fill="#3a3a3a" font-family="'Liberation Sans','Noto Sans CJK SC',sans-serif" font-weight="normal" transform="rotate(-90 135.7 1207.5)">09-19</text>
<line x1="149.2" y1="1201.9" x2="149.2" y2="1206.9" stroke="#bfbfbf" stroke-width="1.2"/>
<text x="152.6" y="1207.5" font-size="9.3" text-anchor="end" fill="#3a3a3a" font-family="'Liberation Sans','Noto Sans CJK SC',sans-serif" font-weight="normal" transform="rotate(-90 152.6 1207.5)">09-26</text>
<line x1="166.2" y1="1201.9" x2="166.2" y2="1206.9" stroke="#bfbfbf" stroke-width="1.2"/>
<text x="169.6" y="1207.5" font-size="9.3" text-anchor="end" fill="#3a3a3a" font-family="'Liberation Sans','Noto Sans CJK SC',sans-serif" font-weight="normal" transform="rotate(-90 169.6 1207.5)">10-03</text>
<line x1="183.2" y1="1201.9" x2="183.2" y2="1206.9" stroke="#bfbfbf" stroke-width="1.2"/>
<text x="186.6" y="1207.5" font-size="9.3" text-anchor="end" fill="#3a3a3a" font-family="'Liberation Sans','Noto Sans CJK SC',sans-serif" font-weight="normal" transform="rotate(-90 186.6 1207.5)">10-10</text>
<line x1="200.2" y1="1201.9" x2="200.2" y2="1206.9" stroke="#bfbfbf" stroke-width="1.2"/>
<text x="203.6" y="1207.5" font-size="9.3" text-anchor="end" fill="#3a3a3a" font-family="'Liberation Sans','Noto Sans CJK SC',sans-serif" font-weight="normal" transform="rotate(-90 203.6 1207.5)">10-17</text>
<line x1="217.2" y1="1201.9" x2="217.2" y2="1206.9" stroke="#bfbfbf" stroke-width="1.2"/>
<text x="220.6" y="1207.5" font-size="9.3" text-anchor="end" fill="#3a3a3a" font-family="'Liberation Sans','Noto Sans CJK SC',sans-serif" font-weight="normal" transform="rotate(-90 220.6 1207.5)">10-24</text>
<line x1="234.2" y1="1201.9" x2="234.2" y2="1206.9" stroke="#bfbfbf" stroke-width="1.2"/>
<text x="237.6" y="1207.5" font-size="9.3" text-anchor="end" fill="#3a3a3a" font-family="'Liberation Sans','Noto Sans CJK SC',sans-serif" font-weight="normal" transform="rotate(-90 237.6 1207.5)">10-31</text>
<line x1="251.2" y1="1201.9" x2="251.2" y2="1206.9" stroke="#bfbfbf" stroke-width="1.2"/>
<text x="254.6" y="1207.5" font-size="9.3" text-anchor="end" fill="#3a3a3a" font-family="'Liberation Sans','Noto Sans CJK SC',sans-serif" font-weight="normal" transform="rotate(-90 254.6 1207.5)">11-07</text>
<line x1="268.2" y1="1201.9" x2="268.2" y2="1206.9" stroke="#bfbfbf" stroke-width="1.2"/>
<text x="271.6" y="1207.5" font-size="9.3" text-anchor="end" fill="#3a3a3a" font-family="'Liberation Sans','Noto Sans CJK SC',sans-serif" font-weight="normal" transform="rotate(-90 271.6 1207.5)">11-14</text>
<line x1="285.2" y1="1201.9" x2="285.2" y2="1206.9" stroke="#bfbfbf" stroke-width="1.2"/>
<text x="288.6" y="1207.5" font-size="9.3" text-anchor="end" fill="#3a3a3a" font-family="'Liberation Sans','Noto Sans CJK SC',sans-serif" font-weight="normal" transform="rotate(-90 288.6 1207.5)">11-21</text>
<line x1="302.1" y1="1201.9" x2="302.1" y2="1206.9" stroke="#bfbfbf" stroke-width="1.2"/>
<text x="305.5" y="1207.5" font-size="9.3" text-anchor="end" fill="#3a3a3a" font-family="'Liberation Sans','Noto Sans CJK SC',sans-serif" font-weight="normal" transform="rotate(-90 305.5 1207.5)">11-28</text>
<line x1="319.1" y1="1201.9" x2="319.1" y2="1206.9" stroke="#bfbfbf" stroke-width="1.2"/>
<text x="322.5" y="1207.5" font-size="9.3" text-anchor="end" fill="#3a3a3a" font-family="'Liberation Sans','Noto Sans CJK SC',sans-serif" font-weight="normal" transform="rotate(-90 322.5 1207.5)">12-05</text>
<line x1="336.1" y1="1201.9" x2="336.1" y2="1206.9" stroke="#bfbfbf" stroke-width="1.2"/>
<text x="339.5" y="1207.5" font-size="9.3" text-anchor="end" fill="#3a3a3a" font-family="'Liberation Sans','Noto Sans CJK SC',sans-serif" font-weight="normal" transform="rotate(-90 339.5 1207.5)">12-12</text>
<line x1="353.1" y1="1201.9" x2="353.1" y2="1206.9" stroke="#bfbfbf" stroke-width="1.2"/>
<text x="356.5" y="1207.5" font-size="9.3" text-anchor="end" fill="#3a3a3a" font-family="'Liberation Sans','Noto Sans CJK SC',sans-serif" font-weight="normal" transform="rotate(-90 356.5 1207.5)">12-19</text>
<line x1="370.1" y1="1201.9" x2="370.1" y2="1206.9" stroke="#bfbfbf" stroke-width="1.2"/>
<text x="373.5" y="1207.5" font-size="9.3" text-anchor="end" fill="#3a3a3a" font-family="'Liberation Sans','Noto Sans CJK SC',sans-serif" font-weight="normal" transform="rotate(-90 373.5 1207.5)">12-26</text>
<line x1="387.1" y1="1201.9" x2="387.1" y2="1206.9" stroke="#bfbfbf" stroke-width="1.2"/>
<text x="390.5" y="1207.5" font-size="9.3" text-anchor="end" fill="#3a3a3a" font-family="'Liberation Sans','Noto Sans CJK SC',sans-serif" font-weight="normal" transform="rotate(-90 390.5 1207.5)">01-02</text>
<line x1="404.1" y1="1201.9" x2="404.1" y2="1206.9" stroke="#bfbfbf" stroke-width="1.2"/>
<text x="407.5" y="1207.5" font-size="9.3" text-anchor="end" fill="#3a3a3a" font-family="'Liberation Sans','Noto Sans CJK SC',sans-serif" font-weight="normal" transform="rotate(-90 407.5 1207.5)">01-09</text>
<line x1="421.1" y1="1201.9" x2="421.1" y2="1206.9" stroke="#bfbfbf" stroke-width="1.2"/>
<text x="424.5" y="1207.5" font-size="9.3" text-anchor="end" fill="#3a3a3a" font-family="'Liberation Sans','Noto Sans CJK SC',sans-serif" font-weight="normal" transform="rotate(-90 424.5 1207.5)">01-16</text>
<line x1="438.1" y1="1201.9" x2="438.1" y2="1206.9" stroke="#bfbfbf" stroke-width="1.2"/>
<text x="441.5" y="1207.5" font-size="9.3" text-anchor="end" fill="#3a3a3a" font-family="'Liberation Sans','Noto Sans CJK SC',sans-serif" font-weight="normal" transform="rotate(-90 441.5 1207.5)">01-23</text>
<line x1="455.1" y1="1201.9" x2="455.1" y2="1206.9" stroke="#bfbfbf" stroke-width="1.2"/>
<text x="458.5" y="1207.5" font-size="9.3" text-anchor="end" fill="#3a3a3a" font-family="'Liberation Sans','Noto Sans CJK SC',sans-serif" font-weight="normal" transform="rotate(-90 458.5 1207.5)">01-30</text>
<line x1="472.0" y1="1201.9" x2="472.0" y2="1206.9" stroke="#bfbfbf" stroke-width="1.2"/>
<text x="475.4" y="1207.5" font-size="9.3" text-anchor="end" fill="#3a3a3a" font-family="'Liberation Sans','Noto Sans CJK SC',sans-serif" font-weight="normal" transform="rotate(-90 475.4 1207.5)">02-06</text>
<line x1="489.0" y1="1201.9" x2="489.0" y2="1206.9" stroke="#bfbfbf" stroke-width="1.2"/>
<text x="492.4" y="1207.5" font-size="9.3" text-anchor="end" fill="#3a3a3a" font-family="'Liberation Sans','Noto Sans CJK SC',sans-serif" font-weight="normal" transform="rotate(-90 492.4 1207.5)">02-13</text>
<text x="264.3" y="982.6" font-size="14.5" text-anchor="middle" fill="#111" font-family="'Liberation Sans','Noto Sans CJK SC',sans-serif" font-weight="bold">原木：库存（万立方米）</text>
<polyline points="47.3,1044.5 64.3,1044.5 81.3,1047.6 98.3,1051.4 115.3,1046.3 132.2,1050.7 149.2,1053.3 166.2,1050.1 183.2,1046.3 200.2,1050.1 217.2,1055.8 234.2,1053.3 251.2,1050.1 268.2,1048.9 285.2,1043.8 302.1,1047.0 319.1,1050.7 336.1,1059.6 353.1,1063.3 370.1,1065.9 387.1,1058.3 404.1,1057.7 421.1,1065.2 438.1,1068.4 455.1,1072.2 472.0,1074.7 489.0,1071.5" fill="none" stroke="#e62227" stroke-width="4" stroke-linejoin="round" stroke-linecap="butt"/>
<polyline points="47.3,1166.0 64.3,1166.0 81.3,1168.5 98.3,1167.3 115.3,1167.3 132.2,1168.5 149.2,1169.8 166.2,1169.2 183.2,1167.9 200.2,1169.8 217.2,1169.8 234.2,1169.2 251.2,1169.2 268.2,1169.2 285.2,1169.2 302.1,1169.2 319.1,1171.7 336.1,1171.7 353.1,1175.4 370.1,1177.3 387.1,1177.3 404.1,1176.7 421.1,1176.7 438.1,1178.0 455.1,1178.6 472.0,1178.6 489.0,1177.3" fill="none" stroke="#215a6a" stroke-width="4" stroke-linejoin="round" stroke-linecap="butt"/>
<line x1="138.8" y1="1249.5" x2="178.0" y2="1249.5" stroke="#e62227" stroke-width="4.5" stroke-linecap="round"/>
<text x="180.5" y="1253.3" font-size="10" text-anchor="start" fill="#333" font-family="'Liberation Sans','Noto Sans CJK SC',sans-serif" font-weight="normal">辐射松原木</text>
<line x1="235.0" y1="1249.5" x2="274.0" y2="1249.5" stroke="#215a6a" stroke-width="4.5" stroke-linecap="round"/>
<text x="276.5" y="1253.3" font-size="10" text-anchor="start" fill="#333" font-family="'Liberation Sans','Noto Sans CJK SC',sans-serif" font-weight="normal">其他品类原木</text>
<line x1="543.7" y1="1165.7" x2="974.0" y2="1165.7" stroke="#d9d9d9" stroke-width="1.3"/>
<line x1="543.7" y1="1134.6" x2="974.0" y2="1134.6" stroke="#d9d9d9" stroke-width="1.3"/>
<line x1="543.7" y1="1103.6" x2="974.0" y2="1103.6" stroke="#d9d9d9" stroke-width="1.3"/>
<line x1="543.7" y1="1072.6" x2="974.0" y2="1072.6" stroke="#d9d9d9" stroke-width="1.3"/>
<line x1="543.7" y1="1041.5" x2="974.0" y2="1041.5" stroke="#d9d9d9" stroke-width="1.3"/>
<line x1="543.7" y1="1010.5" x2="974.0" y2="1010.5" stroke="#d9d9d9" stroke-width="1.3"/>
<text x="537.0" y="1199.9" font-size="9" text-anchor="end" fill="#3a3a3a" font-family="'Liberation Sans','Noto Sans CJK SC',sans-serif" font-weight="normal">0</text>
<text x="537.0" y="1168.9" font-size="9" text-anchor="end" fill="#3a3a3a" font-family="'Liberation Sans','Noto Sans CJK SC',sans-serif" font-weight="normal">0.5</text>
<text x="537.0" y="1137.8" font-size="9" text-anchor="end" fill="#3a3a3a" font-family="'Liberation Sans','Noto Sans CJK SC',sans-serif" font-weight="normal">1</text>
<text x="537.0" y="1106.8" font-size="9" text-anchor="end" fill="#3a3a3a" font-family="'Liberation Sans','Noto Sans CJK SC',sans-serif" font-weight="normal">1.5</text>
<text x="537.0" y="1075.8" font-size="9" text-anchor="end" fill="#3a3a3a" font-family="'Liberation Sans','Noto Sans CJK SC',sans-serif" font-weight="normal">2</text>
<text x="537.0" y="1044.7" font-size="9" text-anchor="end" fill="#3a3a3a" font-family="'Liberation Sans','Noto Sans CJK SC',sans-serif" font-weight="normal">2.5</text>
<text x="537.0" y="1013.7" font-size="9" text-anchor="end" fill="#3a3a3a" font-family="'Liberation Sans','Noto Sans CJK SC',sans-serif" font-weight="normal">3</text>
<line x1="543.7" y1="1196.7" x2="974.0" y2="1196.7" stroke="#bfbfbf" stroke-width="1.3"/>
<line x1="543.7" y1="1010.5" x2="543.7" y2="1196.7" stroke="#bfbfbf" stroke-width="1.3"/>
<line x1="974.0" y1="1010.5" x2="974.0" y2="1196.7" stroke="#bfbfbf" stroke-width="1.3"/>
<line x1="974.0" y1="1197.3" x2="980.0" y2="1197.3" stroke="#bfbfbf" stroke-width="1.2"/>
<text x="986.0" y="1202.3" font-size="15" text-anchor="start" fill="#262626" font-family="'Liberation Sans','Noto Sans CJK SC',sans-serif" font-weight="normal">0</text>
<line x1="974.0" y1="1160.1" x2="980.0" y2="1160.1" stroke="#bfbfbf" stroke-width="1.2"/>
<text x="986.0" y="1165.1" font-size="15" text-anchor="start" fill="#262626" font-family="'Liberation Sans','Noto Sans CJK SC',sans-serif" font-weight="normal">1</text>
<line x1="974.0" y1="1123.0" x2="980.0" y2="1123.0" stroke="#bfbfbf" stroke-width="1.2"/>
<text x="986.0" y="1128.0" font-size="15" text-anchor="start" fill="#262626" font-family="'Liberation Sans','Noto Sans CJK SC',sans-serif" font-weight="normal">2</text>
<line x1="974.0" y1="1085.8" x2="980.0" y2="1085.8" stroke="#bfbfbf" stroke-width="1.2"/>
<text x="986.0" y="1090.8" font-size="15" text-anchor="start" fill="#262626" font-family="'Liberation Sans','Noto Sans CJK SC',sans-serif" font-weight="normal">3</text>
<line x1="974.0" y1="1048.7" x2="980.0" y2="1048.7" stroke="#bfbfbf" stroke-width="1.2"/>
<text x="986.0" y="1053.7" font-size="15" text-anchor="start" fill="#262626" font-family="'Liberation Sans','Noto Sans CJK SC',sans-serif" font-weight="normal">4</text>
<line x1="974.0" y1="1011.5" x2="980.0" y2="1011.5" stroke="#bfbfbf" stroke-width="1.2"/>
<text x="986.0" y="1016.5" font-size="15" text-anchor="start" fill="#262626" font-family="'Liberation Sans','Noto Sans CJK SC',sans-serif" font-weight="normal">5</text>
<line x1="543.7" y1="1196.7" x2="543.7" y2="1201.7" stroke="#bfbfbf" stroke-width="1.2"/>
<text x="547.1" y="1203.0" font-size="9.3" text-anchor="end" fill="#3a3a3a" font-family="'Liberation Sans','Noto Sans CJK SC',sans-serif" font-weight="normal" transform="rotate(-90 547.1 1203.0)">08-15</text>
<line x1="560.2" y1="1196.7" x2="560.2" y2="1201.7" stroke="#bfbfbf" stroke-width="1.2"/>
<text x="563.6" y="1203.0" font-size="9.3" text-anchor="end" fill="#3a3a3a" font-family="'Liberation Sans','Noto Sans CJK SC',sans-serif" font-weight="normal" transform="rotate(-90 563.6 1203.0)">08-22</text>
<line x1="576.8" y1="1196.7" x2="576.8" y2="1201.7" stroke="#bfbfbf" stroke-width="1.2"/>
<text x="580.2" y="1203.0" font-size="9.3" text-anchor="end" fill="#3a3a3a" font-family="'Liberation Sans','Noto Sans CJK SC',sans-serif" font-weight="normal" transform="rotate(-90 580.2 1203.0)">08-29</text>
<line x1="593.4" y1="1196.7" x2="593.4" y2="1201.7" stroke="#bfbfbf" stroke-width="1.2"/>
<text x="596.8" y="1203.0" font-size="9.3" text-anchor="end" fill="#3a3a3a" font-family="'Liberation Sans','Noto Sans CJK SC',sans-serif" font-weight="normal" transform="rotate(-90 596.8 1203.0)">09-05</text>
<line x1="609.9" y1="1196.7" x2="609.9" y2="1201.7" stroke="#bfbfbf" stroke-width="1.2"/>
<text x="613.3" y="1203.0" font-size="9.3" text-anchor="end" fill="#3a3a3a" font-family="'Liberation Sans','Noto Sans CJK SC',sans-serif" font-weight="normal" transform="rotate(-90 613.3 1203.0)">09-12</text>
<line x1="626.5" y1="1196.7" x2="626.5" y2="1201.7" stroke="#bfbfbf" stroke-width="1.2"/>
<text x="629.9" y="1203.0" font-size="9.3" text-anchor="end" fill="#3a3a3a" font-family="'Liberation Sans','Noto Sans CJK SC',sans-serif" font-weight="normal" transform="rotate(-90 629.9 1203.0)">09-19</text>
<line x1="643.0" y1="1196.7" x2="643.0" y2="1201.7" stroke="#bfbfbf" stroke-width="1.2"/>
<text x="646.4" y="1203.0" font-size="9.3" text-anchor="end" fill="#3a3a3a" font-family="'Liberation Sans','Noto Sans CJK SC',sans-serif" font-weight="normal" transform="rotate(-90 646.4 1203.0)">09-26</text>
<line x1="659.6" y1="1196.7" x2="659.6" y2="1201.7" stroke="#bfbfbf" stroke-width="1.2"/>
<text x="663.0" y="1203.0" font-size="9.3" text-anchor="end" fill="#3a3a3a" font-family="'Liberation Sans','Noto Sans CJK SC',sans-serif" font-weight="normal" transform="rotate(-90 663.0 1203.0)">10-03</text>
<line x1="676.1" y1="1196.7" x2="676.1" y2="1201.7" stroke="#bfbfbf" stroke-width="1.2"/>
<text x="679.5" y="1203.0" font-size="9.3" text-anchor="end" fill="#3a3a3a" font-family="'Liberation Sans','Noto Sans CJK SC',sans-serif" font-weight="normal" transform="rotate(-90 679.5 1203.0)">10-10</text>
<line x1="692.7" y1="1196.7" x2="692.7" y2="1201.7" stroke="#bfbfbf" stroke-width="1.2"/>
<text x="696.1" y="1203.0" font-size="9.3" text-anchor="end" fill="#3a3a3a" font-family="'Liberation Sans','Noto Sans CJK SC',sans-serif" font-weight="normal" transform="rotate(-90 696.1 1203.0)">10-17</text>
<line x1="709.2" y1="1196.7" x2="709.2" y2="1201.7" stroke="#bfbfbf" stroke-width="1.2"/>
<text x="712.6" y="1203.0" font-size="9.3" text-anchor="end" fill="#3a3a3a" font-family="'Liberation Sans','Noto Sans CJK SC',sans-serif" font-weight="normal" transform="rotate(-90 712.6 1203.0)">10-24</text>
<line x1="725.8" y1="1196.7" x2="725.8" y2="1201.7" stroke="#bfbfbf" stroke-width="1.2"/>
<text x="729.1" y="1203.0" font-size="9.3" text-anchor="end" fill="#3a3a3a" font-family="'Liberation Sans','Noto Sans CJK SC',sans-serif" font-weight="normal" transform="rotate(-90 729.1 1203.0)">10-31</text>
<line x1="742.3" y1="1196.7" x2="742.3" y2="1201.7" stroke="#bfbfbf" stroke-width="1.2"/>
<text x="745.7" y="1203.0" font-size="9.3" text-anchor="end" fill="#3a3a3a" font-family="'Liberation Sans','Noto Sans CJK SC',sans-serif" font-weight="normal" transform="rotate(-90 745.7 1203.0)">11-07</text>
<line x1="758.9" y1="1196.7" x2="758.9" y2="1201.7" stroke="#bfbfbf" stroke-width="1.2"/>
<text x="762.2" y="1203.0" font-size="9.3" text-anchor="end" fill="#3a3a3a" font-family="'Liberation Sans','Noto Sans CJK SC',sans-serif" font-weight="normal" transform="rotate(-90 762.2 1203.0)">11-14</text>
<line x1="775.4" y1="1196.7" x2="775.4" y2="1201.7" stroke="#bfbfbf" stroke-width="1.2"/>
<text x="778.8" y="1203.0" font-size="9.3" text-anchor="end" fill="#3a3a3a" font-family="'Liberation Sans','Noto Sans CJK SC',sans-serif" font-weight="normal" transform="rotate(-90 778.8 1203.0)">11-21</text>
<line x1="792.0" y1="1196.7" x2="792.0" y2="1201.7" stroke="#bfbfbf" stroke-width="1.2"/>
<text x="795.4" y="1203.0" font-size="9.3" text-anchor="end" fill="#3a3a3a" font-family="'Liberation Sans','Noto Sans CJK SC',sans-serif" font-weight="normal" transform="rotate(-90 795.4 1203.0)">11-28</text>
<line x1="808.5" y1="1196.7" x2="808.5" y2="1201.7" stroke="#bfbfbf" stroke-width="1.2"/>
<text x="811.9" y="1203.0" font-size="9.3" text-anchor="end" fill="#3a3a3a" font-family="'Liberation Sans','Noto Sans CJK SC',sans-serif" font-weight="normal" transform="rotate(-90 811.9 1203.0)">12-05</text>
<line x1="825.1" y1="1196.7" x2="825.1" y2="1201.7" stroke="#bfbfbf" stroke-width="1.2"/>
<text x="828.5" y="1203.0" font-size="9.3" text-anchor="end" fill="#3a3a3a" font-family="'Liberation Sans','Noto Sans CJK SC',sans-serif" font-weight="normal" transform="rotate(-90 828.5 1203.0)">12-12</text>
<line x1="841.6" y1="1196.7" x2="841.6" y2="1201.7" stroke="#bfbfbf" stroke-width="1.2"/>
<text x="845.0" y="1203.0" font-size="9.3" text-anchor="end" fill="#3a3a3a" font-family="'Liberation Sans','Noto Sans CJK SC',sans-serif" font-weight="normal" transform="rotate(-90 845.0 1203.0)">12-19</text>
<line x1="858.2" y1="1196.7" x2="858.2" y2="1201.7" stroke="#bfbfbf" stroke-width="1.2"/>
<text x="861.6" y="1203.0" font-size="9.3" text-anchor="end" fill="#3a3a3a" font-family="'Liberation Sans','Noto Sans CJK SC',sans-serif" font-weight="normal" transform="rotate(-90 861.6 1203.0)">12-26</text>
<line x1="874.7" y1="1196.7" x2="874.7" y2="1201.7" stroke="#bfbfbf" stroke-width="1.2"/>
<text x="878.1" y="1203.0" font-size="9.3" text-anchor="end" fill="#3a3a3a" font-family="'Liberation Sans','Noto Sans CJK SC',sans-serif" font-weight="normal" transform="rotate(-90 878.1 1203.0)">01-02</text>
<line x1="891.2" y1="1196.7" x2="891.2" y2="1201.7" stroke="#bfbfbf" stroke-width="1.2"/>
<text x="894.6" y="1203.0" font-size="9.3" text-anchor="end" fill="#3a3a3a" font-family="'Liberation Sans','Noto Sans CJK SC',sans-serif" font-weight="normal" transform="rotate(-90 894.6 1203.0)">01-09</text>
<line x1="907.8" y1="1196.7" x2="907.8" y2="1201.7" stroke="#bfbfbf" stroke-width="1.2"/>
<text x="911.2" y="1203.0" font-size="9.3" text-anchor="end" fill="#3a3a3a" font-family="'Liberation Sans','Noto Sans CJK SC',sans-serif" font-weight="normal" transform="rotate(-90 911.2 1203.0)">01-16</text>
<line x1="924.4" y1="1196.7" x2="924.4" y2="1201.7" stroke="#bfbfbf" stroke-width="1.2"/>
<text x="927.8" y="1203.0" font-size="9.3" text-anchor="end" fill="#3a3a3a" font-family="'Liberation Sans','Noto Sans CJK SC',sans-serif" font-weight="normal" transform="rotate(-90 927.8 1203.0)">01-23</text>
<line x1="940.9" y1="1196.7" x2="940.9" y2="1201.7" stroke="#bfbfbf" stroke-width="1.2"/>
<text x="944.3" y="1203.0" font-size="9.3" text-anchor="end" fill="#3a3a3a" font-family="'Liberation Sans','Noto Sans CJK SC',sans-serif" font-weight="normal" transform="rotate(-90 944.3 1203.0)">01-30</text>
<line x1="957.5" y1="1196.7" x2="957.5" y2="1201.7" stroke="#bfbfbf" stroke-width="1.2"/>
<text x="960.9" y="1203.0" font-size="9.3" text-anchor="end" fill="#3a3a3a" font-family="'Liberation Sans','Noto Sans CJK SC',sans-serif" font-weight="normal" transform="rotate(-90 960.9 1203.0)">02-06</text>
<line x1="974.0" y1="1196.7" x2="974.0" y2="1201.7" stroke="#bfbfbf" stroke-width="1.2"/>
<text x="977.4" y="1203.0" font-size="9.3" text-anchor="end" fill="#3a3a3a" font-family="'Liberation Sans','Noto Sans CJK SC',sans-serif" font-weight="normal" transform="rotate(-90 977.4 1203.0)">02-13</text>
<text x="763.4" y="982.4" font-size="14.5" text-anchor="middle" fill="#111" font-family="'Liberation Sans','Noto Sans CJK SC',sans-serif" font-weight="bold">原木：日均库存量（万立方米）</text>
<polyline points="543.7,1181.3 560.2,1176.8 576.8,1182.6 593.4,1173.2 609.9,1173.0 626.5,1173.0 643.0,1178.3 659.6,1178.3 676.1,1177.8 692.7,1177.8 709.2,1174.5 725.8,1171.6 742.3,1175.4 758.9,1179.6 775.4,1178.0 792.0,1178.6 808.5,1175.6 825.1,1177.4 841.6,1179.5 858.2,1174.0 874.7,1174.5 891.2,1174.5 907.8,1172.5 924.4,1173.0 940.9,1170.7 957.5,1175.5 974.0,1187.7" fill="none" stroke="#9bbb59" stroke-width="3" stroke-linejoin="round" stroke-linecap="butt"/>
<polyline points="543.7,1063.0 560.2,1066.8 576.8,1064.8 593.4,1072.4 609.9,1068.6 626.5,1083.0 643.0,1068.6 659.6,1068.6 676.1,1068.4 692.7,1068.8 709.2,1064.7 725.8,1078.1 742.3,1055.7 758.9,1060.4 775.4,1063.2 792.0,1083.6 808.5,1070.6 825.1,1068.4 841.6,1072.4 858.2,1092.8 874.7,1088.8 891.2,1092.6 907.8,1077.4 924.4,1063.5 940.9,1052.1 957.5,1074.9 974.0,1180.0" fill="none" stroke="#1f6158" stroke-width="3" stroke-linejoin="round" stroke-linecap="butt"/>
<polyline points="543.7,1053.4 560.2,1046.3 576.8,1055.4 593.4,1063.0 609.9,1058.9 626.5,1053.9 643.0,1033.6 659.6,1060.0 676.1,1085.8 692.7,1046.2 709.2,1052.2 725.8,1045.8 742.3,1055.0 758.9,1045.2 775.4,1050.3 792.0,1034.2 808.5,1028.4 825.1,1041.6 841.6,1040.1 858.2,1046.0 874.7,1062.2 891.2,1050.8 907.8,1055.4 924.4,1076.2 940.9,1097.7 957.5,1116.7 974.0,1183.9" fill="none" stroke="#e62227" stroke-width="3" stroke-linejoin="round" stroke-linecap="butt"/>
<line x1="641.8" y1="1250.0" x2="680.9" y2="1250.0" stroke="#e62227" stroke-width="3"/>
<text x="683.4" y="1253.8" font-size="10" text-anchor="start" fill="#333" font-family="'Liberation Sans','Noto Sans CJK SC',sans-serif" font-weight="normal">江苏</text>
<line x1="706.2" y1="1250.0" x2="749.3" y2="1250.0" stroke="#1f6158" stroke-width="3"/>
<text x="751.8" y="1253.8" font-size="10" text-anchor="start" fill="#333" font-family="'Liberation Sans','Noto Sans CJK SC',sans-serif" font-weight="normal">山东</text>
<line x1="774.6" y1="1250.0" x2="815.2" y2="1250.0" stroke="#9bbb59" stroke-width="3"/>
<text x="817.7" y="1253.8" font-size="10" text-anchor="start" fill="#333" font-family="'Liberation Sans','Noto Sans CJK SC',sans-serif" font-weight="normal">其他地区</text>
</svg>
<div class="c th" style="left:14.5px;width:59.0px;top:82.8px;height:26.8px;">市场</div>
<div class="c th" style="left:71.0px;width:162.8px;top:82.8px;height:26.8px;">类型</div>
<div class="c th" style="left:235.0px;width:198.0px;top:82.8px;height:26.8px;">地区</div>
<div class="c th" style="left:433.8px;width:135.2px;top:82.8px;height:26.8px;">前一工作日</div>
<div class="c th" style="left:567.0px;width:136.0px;top:82.8px;height:26.8px;">当前工作日</div>
<div class="c th" style="left:703.0px;width:132.0px;top:82.8px;height:26.8px;">变动量</div>
<div class="c th" style="left:835.0px;width:177.0px;top:82.8px;height:26.8px;">变动比例</div>
<div class="c td" style="left:236.2px;width:198.0px;top:109.4px;height:29.2px;">日照</div>
<div class="c td" style="left:431.8px;width:124.2px;top:109.4px;height:29.2px;"><i class="h1">7</i><i class="h1">5</i><i class="h1">0</i><i class="h1 hl">.</i><i class="h1">0</i><i class="h1">0</i></div>
<div class="c td" style="left:567.0px;width:125.0px;top:109.4px;height:29.2px;"><i class="h1">7</i><i class="h1">5</i><i class="h1">0</i><i class="h1 hl">.</i><i class="h1">0</i><i class="h1">0</i></div>
<div class="c td" style="left:703.0px;width:132.0px;top:109.4px;height:29.2px;"><i class="h1">0</i></div>
<div class="c td" style="left:836.0px;width:177.0px;top:109.4px;height:29.2px;"><i class="h1">0</i><i class="h1 hl">.</i><i class="h1">0</i><i class="h1">0</i><i class="h1 hpc">%</i></div>
<div class="c td" style="left:236.2px;width:198.0px;top:138.6px;height:29.2px;">重庆</div>
<div class="c td" style="left:431.8px;width:124.2px;top:138.6px;height:29.2px;"><i class="h1">8</i><i class="h1">4</i><i class="h1">0</i><i class="h1 hl">.</i><i class="h1">0</i><i class="h1">0</i></div>
<div class="c td" style="left:567.0px;width:125.0px;top:138.6px;height:29.2px;"><i class="h1">8</i><i class="h1">4</i><i class="h1">0</i><i class="h1 hl">.</i><i class="h1">0</i><i class="h1">0</i></div>
<div class="c td" style="left:703.0px;width:132.0px;top:138.6px;height:29.2px;"><i class="h1">0</i></div>
<div class="c td" style="left:836.0px;width:177.0px;top:138.6px;height:29.2px;"><i class="h1">0</i><i class="h1 hl">.</i><i class="h1">0</i><i class="h1">0</i><i class="h1 hpc">%</i></div>
<div class="c td" style="left:236.2px;width:198.0px;top:167.9px;height:29.2px;">日照</div>
<div class="c td" style="left:431.8px;width:124.2px;top:167.9px;height:29.2px;"><i class="h1">7</i><i class="h1">8</i><i class="h1">0</i><i class="h1 hl">.</i><i class="h1">0</i><i class="h1">0</i></div>
<div class="c td" style="left:567.0px;width:125.0px;top:167.9px;height:29.2px;"><i class="h1">7</i><i class="h1">8</i><i class="h1">0</i><i class="h1 hl">.</i><i class="h1">0</i><i class="h1">0</i></div>
<div class="c td" style="left:703.0px;width:132.0px;top:167.9px;height:29.2px;"><i class="h1">0</i></div>
<div class="c td" style="left:836.0px;width:177.0px;top:167.9px;height:29.2px;"><i class="h1">0</i><i class="h1 hl">.</i><i class="h1">0</i><i class="h1">0</i><i class="h1 hpc">%</i></div>
<div class="c td" style="left:236.2px;width:198.0px;top:197.1px;height:29.2px;">太仓</div>
<div class="c td" style="left:431.8px;width:124.2px;top:197.1px;height:29.2px;"><i class="h1">8</i><i class="h1">2</i><i class="h1">0</i><i class="h1 hl">.</i><i class="h1">0</i><i class="h1">0</i></div>
<div class="c td" style="left:567.0px;width:125.0px;top:197.1px;height:29.2px;"><i class="h1">8</i><i class="h1">2</i><i class="h1">0</i><i class="h1 hl">.</i><i class="h1">0</i><i class="h1">0</i></div>
<div class="c td" style="left:703.0px;width:132.0px;top:197.1px;height:29.2px;"><i class="h1">0</i></div>
<div class="c td" style="left:836.0px;width:177.0px;top:197.1px;height:29.2px;"><i class="h1">0</i><i class="h1 hl">.</i><i class="h1">0</i><i class="h1">0</i><i class="h1 hpc">%</i></div>
<div class="c td" style="left:236.2px;width:198.0px;top:226.4px;height:29.2px;">重庆</div>
<div class="c td" style="left:431.8px;width:124.2px;top:226.4px;height:29.2px;"><i class="h1">8</i><i class="h1">6</i><i class="h1">0</i><i class="h1 hl">.</i><i class="h1">0</i><i class="h1">0</i></div>
<div class="c td" style="left:567.0px;width:125.0px;top:226.4px;height:29.2px;"><i class="h1">8</i><i class="h1">6</i><i class="h1">0</i><i class="h1 hl">.</i><i class="h1">0</i><i class="h1">0</i></div>
<div class="c td" style="left:703.0px;width:132.0px;top:226.4px;height:29.2px;"><i class="h1">0</i></div>
<div class="c td" style="left:836.0px;width:177.0px;top:226.4px;height:29.2px;"><i class="h1">0</i><i class="h1 hl">.</i><i class="h1">0</i><i class="h1">0</i><i class="h1 hpc">%</i></div>
<div class="c td" style="left:236.2px;width:198.0px;top:255.6px;height:29.2px;">日照</div>
<div class="c td" style="left:431.8px;width:124.2px;top:255.6px;height:29.2px;"><i class="h1">1</i><i class="h1">2</i><i class="h1">4</i><i class="h1">0</i><i class="h1 hl">.</i><i class="h1">0</i><i class="h1">0</i></div>
<div class="c td" style="left:567.0px;width:125.0px;top:255.6px;height:29.2px;"><i class="h1">1</i><i class="h1 hl">,</i><i class="h1">2</i><i class="h1">4</i><i class="h1">0</i><i class="h1 hl">.</i><i class="h1">0</i><i class="h1">0</i></div>
<div class="c td" style="left:703.0px;width:132.0px;top:255.6px;height:29.2px;"><i class="h1">0</i></div>
<div class="c td" style="left:836.0px;width:177.0px;top:255.6px;height:29.2px;"><i class="h1">0</i><i class="h1 hl">.</i><i class="h1">0</i><i class="h1">0</i><i class="h1 hpc">%</i></div>
<div class="c td" style="left:236.2px;width:198.0px;top:284.8px;height:29.2px;">太仓</div>
<div class="c td" style="left:431.8px;width:124.2px;top:284.8px;height:29.2px;"><i class="h1">1</i><i class="h1">2</i><i class="h1">9</i><i class="h1">0</i><i class="h1 hl">.</i><i class="h1">0</i><i class="h1">0</i></div>
<div class="c td" style="left:567.0px;width:125.0px;top:284.8px;height:29.2px;"><i class="h1">1</i><i class="h1 hl">,</i><i class="h1">2</i><i class="h1">9</i><i class="h1">0</i><i class="h1 hl">.</i><i class="h1">0</i><i class="h1">0</i></div>
<div class="c td" style="left:703.0px;width:132.0px;top:284.8px;height:29.2px;"><i class="h1">0</i></div>
<div class="c td" style="left:836.0px;width:177.0px;top:284.8px;height:29.2px;"><i class="h1">0</i><i class="h1 hl">.</i><i class="h1">0</i><i class="h1">0</i><i class="h1 hpc">%</i></div>
<div class="c td" style="left:236.2px;width:198.0px;top:314.1px;height:29.2px;">重庆</div>
<div class="c td" style="left:431.8px;width:124.2px;top:314.1px;height:29.2px;"><i class="h1">1</i><i class="h1">4</i><i class="h1">1</i><i class="h1">0</i><i class="h1 hl">.</i><i class="h1">0</i><i class="h1">0</i></div>
<div class="c td" style="left:567.0px;width:125.0px;top:314.1px;height:29.2px;"><i class="h1">1</i><i class="h1 hl">,</i><i class="h1">4</i><i class="h1">1</i><i class="h1">0</i><i class="h1 hl">.</i><i class="h1">0</i><i class="h1">0</i></div>
<div class="c td" style="left:703.0px;width:132.0px;top:314.1px;height:29.2px;"><i class="h1">0</i></div>
<div class="c td" style="left:836.0px;width:177.0px;top:314.1px;height:29.2px;"><i class="h1">0</i><i class="h1 hl">.</i><i class="h1">0</i><i class="h1">0</i><i class="h1 hpc">%</i></div>
<div class="c td" style="left:236.2px;width:198.0px;top:343.3px;height:29.2px;">开盘价</div>
<div class="c td" style="left:431.8px;width:124.2px;top:343.3px;height:29.2px;"><i class="h1">7</i><i class="h1">8</i><i class="h1">0</i><i class="h1 hl">.</i><i class="h1">0</i><i class="h1">0</i></div>
<div class="c td" style="left:567.0px;width:125.0px;top:343.3px;height:29.2px;"><i class="h1">7</i><i class="h1">9</i><i class="h1">2</i><i class="h1 hl">.</i><i class="h1">0</i><i class="h1">0</i></div>
<div class="c td" style="left:703.0px;width:132.0px;top:343.3px;height:29.2px;color:#ff0000;"><i class="h1">1</i><i class="h1">2</i></div>
<div class="c td" style="left:836.0px;width:177.0px;top:343.3px;height:29.2px;color:#ff0000;"><i class="h1">1</i><i class="h1 hl">.</i><i class="h1">5</i><i class="h1">4</i><i class="h1 hpc">%</i></div>
<div class="c td" style="left:236.2px;width:198.0px;top:372.6px;height:29.2px;">最高价</div>
<div class="c td" style="left:431.8px;width:124.2px;top:372.6px;height:29.2px;"><i class="h1">7</i><i class="h1">9</i><i class="h1">6</i><i class="h1 hl">.</i><i class="h1">5</i><i class="h1">0</i></div>
<div class="c td" style="left:567.0px;width:125.0px;top:372.6px;height:29.2px;"><i class="h1">8</i><i class="h1">0</i><i class="h1">0</i><i class="h1 hl">.</i><i class="h1">0</i><i class="h1">0</i></div>
<div class="c td" style="left:703.0px;width:132.0px;top:372.6px;height:29.2px;color:#ff0000;"><i class="h1">3</i><i class="h1 hl">.</i><i class="h1">5</i></div>
<div class="c td" style="left:836.0px;width:177.0px;top:372.6px;height:29.2px;color:#ff0000;"><i class="h1">0</i><i class="h1 hl">.</i><i class="h1">4</i><i class="h1">4</i><i class="h1 hpc">%</i></div>
<div class="c td" style="left:236.2px;width:198.0px;top:401.8px;height:29.2px;">最低价</div>
<div class="c td" style="left:431.8px;width:124.2px;top:401.8px;height:29.2px;"><i class="h1">7</i><i class="h1">8</i><i class="h1">0</i><i class="h1 hl">.</i><i class="h1">0</i><i class="h1">0</i></div>
<div class="c td" style="left:567.0px;width:125.0px;top:401.8px;height:29.2px;"><i class="h1">7</i><i class="h1">9</i><i class="h1">1</i><i class="h1 hl">.</i><i class="h1">0</i><i class="h1">0</i></div>
<div class="c td" style="left:703.0px;width:132.0px;top:401.8px;height:29.2px;color:#ff0000;"><i class="h1">1</i><i class="h1">1</i></div>
<div class="c td" style="left:836.0px;width:177.0px;top:401.8px;height:29.2px;color:#ff0000;"><i class="h1">1</i><i class="h1 hl">.</i><i class="h1">4</i><i class="h1">1</i><i class="h1 hpc">%</i></div>
<div class="c td" style="left:236.2px;width:198.0px;top:431.0px;height:29.2px;">收盘价</div>
<div class="c td" style="left:431.8px;width:124.2px;top:431.0px;height:29.2px;"><i class="h1">7</i><i class="h1">8</i><i class="h1">8</i><i class="h1 hl">.</i><i class="h1">5</i><i class="h1">0</i></div>
<div class="c td" style="left:567.0px;width:125.0px;top:431.0px;height:29.2px;"><i class="h1">7</i><i class="h1">9</i><i class="h1">6</i><i class="h1 hl">.</i><i class="h1">0</i><i class="h1">0</i></div>
<div class="c td" style="left:703.0px;width:132.0px;top:431.0px;height:29.2px;color:#ff0000;"><i class="h1">7</i><i class="h1 hl">.</i><i class="h1">5</i></div>
<div class="c td" style="left:836.0px;width:177.0px;top:431.0px;height:29.2px;color:#ff0000;"><i class="h1">0</i><i class="h1 hl">.</i><i class="h1">9</i><i class="h1">5</i><i class="h1 hpc">%</i></div>
<div class="c td" style="left:236.2px;width:198.0px;top:460.3px;height:29.2px;">结算价</div>
<div class="c td" style="left:431.8px;width:124.2px;top:460.3px;height:29.2px;"><i class="h1">7</i><i class="h1">9</i><i class="h1">1</i><i class="h1 hl">.</i><i class="h1">0</i><i class="h1">0</i></div>
<div class="c td" style="left:567.0px;width:125.0px;top:460.3px;height:29.2px;"><i class="h1">7</i><i class="h1">9</i><i class="h1">6</i><i class="h1 hl">.</i><i class="h1">5</i><i class="h1">0</i></div>
<div class="c td" style="left:703.0px;width:132.0px;top:460.3px;height:29.2px;color:#ff0000;"><i class="h1">5</i><i class="h1 hl">.</i><i class="h1">5</i></div>
<div class="c td" style="left:836.0px;width:177.0px;top:460.3px;height:29.2px;color:#ff0000;"><i class="h1">0</i><i class="h1 hl">.</i><i class="h1">7</i><i class="h1">0</i><i class="h1 hpc">%</i></div>
<div class="c td" style="left:236.2px;width:198.0px;top:489.5px;height:29.2px;">基差</div>
<div class="c td" style="left:431.8px;width:124.2px;top:489.5px;height:29.2px;"><i class="h1">1</i><i class="h1">9</i><i class="h1">1</i><i class="h1">3</i><i class="h1 hl">.</i><i class="h1">0</i><i class="h1">0</i></div>
<div class="c td" style="left:567.0px;width:125.0px;top:489.5px;height:29.2px;"><i class="h1 hmn">-</i><i class="h1">4</i><i class="h1">6</i><i class="h1 hl">.</i><i class="h1">5</i><i class="h1">0</i></div>
<div class="c td" style="left:703.0px;width:132.0px;top:489.5px;height:29.2px;color:#00b050;"><i class="h1 hmn">-</i><i class="h1">1</i><i class="h1">9</i><i class="h1">5</i><i class="h1">9</i><i class="h1 hl">.</i><i class="h1">5</i></div>
<div class="c td" style="left:836.0px;width:177.0px;top:489.5px;height:29.2px;color:#00b050;"><i class="h1 hmn">-</i><i class="h1">1</i><i class="h1">0</i><i class="h1">2</i><i class="h1 hl">.</i><i class="h1">4</i><i class="h1">3</i><i class="h1 hpc">%</i></div>
<div class="c td" style="left:236.2px;width:198.0px;top:518.8px;height:29.2px;">成交量</div>
<div class="c td" style="left:431.8px;width:124.2px;top:518.8px;height:29.2px;"><i class="h1">2</i><i class="h1">2</i><i class="h1">3</i><i class="h1">0</i><i class="h1 hl">.</i><i class="h1">0</i><i class="h1">0</i></div>
<div class="c td" style="left:567.0px;width:125.0px;top:518.8px;height:29.2px;"><i class="h1">7</i><i class="h1 hl">,</i><i class="h1">1</i><i class="h1">0</i><i class="h1">8</i><i class="h1 hl">.</i><i class="h1">0</i><i class="h1">0</i></div>
<div class="c td" style="left:703.0px;width:132.0px;top:518.8px;height:29.2px;color:#ff0000;"><i class="h1">4</i><i class="h1">8</i><i class="h1">7</i><i class="h1">8</i></div>
<div class="c td" style="left:836.0px;width:177.0px;top:518.8px;height:29.2px;color:#ff0000;"><i class="h1">2</i><i class="h1">1</i><i class="h1">8</i><i class="h1 hl">.</i><i class="h1">7</i><i class="h1">4</i><i class="h1 hpc">%</i></div>
<div class="c td" style="left:236.2px;width:198.0px;top:548.0px;height:29.2px;">持仓量</div>
<div class="c td" style="left:431.8px;width:124.2px;top:548.0px;height:29.2px;"><i class="h1">0</i><i class="h1 hl">.</i><i class="h1">0</i><i class="h1">0</i></div>
<div class="c td" style="left:567.0px;width:125.0px;top:548.0px;height:29.2px;"><i class="h1">5</i><i class="h1 hl">,</i><i class="h1">1</i><i class="h1">2</i><i class="h1">6</i><i class="h1 hl">.</i><i class="h1">0</i><i class="h1">0</i></div>
<div class="c td" style="left:703.0px;width:132.0px;top:548.0px;height:29.2px;color:#ff0000;"><i class="h1">5</i><i class="h1">1</i><i class="h1">2</i><i class="h1">6</i></div>
<div class="c td" style="left:836.0px;width:177.0px;top:548.0px;height:29.2px;"><i class="h1">0</i><i class="h1 hl">.</i><i class="h1">0</i><i class="h1">0</i><i class="h1 hpc">%</i></div>
<div class="c td" style="left:236.2px;width:198.0px;top:577.2px;height:29.2px;">注册仓单</div>
<div class="c td" style="left:431.8px;width:124.2px;top:577.2px;height:29.2px;"><i class="h1 hmn">-</i><i class="h1">4</i><i class="h1">1</i><i class="h1 hl">.</i><i class="h1">0</i><i class="h1">0</i></div>
<div class="c td" style="left:567.0px;width:125.0px;top:577.2px;height:29.2px;"><i class="h1">0</i><i class="h1 hl">.</i><i class="h1">0</i><i class="h1">0</i></div>
<div class="c td" style="left:703.0px;width:132.0px;top:577.2px;height:29.2px;color:#ff0000;"><i class="h1">4</i><i class="h1">1</i></div>
<div class="c td" style="left:836.0px;width:177.0px;top:577.2px;height:29.2px;color:#00b050;"><i class="h1 hmn">-</i><i class="h1">1</i><i class="h1">0</i><i class="h1">0</i><i class="h1 hl">.</i><i class="h1">0</i><i class="h1">0</i><i class="h1 hpc">%</i></div>
<div class="c td" style="left:12.0px;width:59.0px;top:108.9px;height:233.9px;">现货</div>
<div class="c td" style="left:12.0px;width:59.0px;top:342.8px;height:263.2px;">期货</div>
<div class="c td tb" style="left:72.5px;width:162.8px;top:108.4px;height:58.5px;">辐射松<i class="h1">3</i><i class="h1 hl">.</i><i class="h1">8</i><i class="h1 hal">A</i></div>
<div class="c td tb" style="left:72.5px;width:162.8px;top:166.9px;height:87.7px;">辐射松<i class="h1">5</i><i class="h1 hl">.</i><i class="h1">8</i><i class="h1 hal">A</i></div>
<div class="c td tb" style="left:72.5px;width:162.8px;top:254.6px;height:87.7px;">辐射松木方<i class="h1">3</i>米</div>
<div class="c td tb" style="left:72.5px;width:162.8px;top:342.3px;height:175.4px;">主力合约</div>
<div class="c td tb" style="left:72.5px;width:162.8px;top:517.8px;height:87.7px;">数量（手）</div>
<div class="t logo" style="left:79.5px;top:21.0px;">中原期货</div>
<div class="t logoen" style="left:81.5px;top:58.5px;">CENTRAL CHINA FUTURES</div>
<div class="t title" style="left:446.0px;top:24.5px;">原木日报</div>
<div class="t date" style="left:864.3px;top:34.8px;"><i class="h2">2</i><i class="h2">0</i><i class="h2">2</i><i class="h2">6</i>年<i class="h2">2</i>月<i class="h2">2</i><i class="h2">5</i>日</div>
<div class="t lab" style="left:20.3px;top:1382.3px;">市场<br>资讯</div>
<div class="t lab" style="left:21.0px;top:1601.0px;">简评</div>
<div class="t para" style="left:76.0px;top:1371.0px;">据木联调研，<i class="h2">2</i>月<i class="h2">9</i>日<i class="h2 hmn">-</i><i class="h2">2</i>月<i class="h2">1</i><i class="h2">5</i>日，中国<i class="h2">7</i>省<i class="h2">1</i><i class="h2">3</i>港针叶原木日均出库量为<i class="h2">0</i><i class="h2 hl">.</i><i class="h2">9</i><i class="h2">5</i>万方，较上周减少</div>
<div class="t para" style="left:76.0px;top:1398.8px;"><i class="h2">8</i><i class="h2">1</i><i class="h2 hl">.</i><i class="h2">5</i><i class="h2">5</i><i class="h2 hpc">%</i>；其中，山东港口针叶原木日均出库量为<i class="h2">0</i><i class="h2 hl">.</i><i class="h2">5</i>万方，较上周减少<i class="h2">8</i><i class="h2">4</i><i class="h2 hl">.</i><i class="h2">7</i><i class="h2">6</i><i class="h2 hpc">%</i>；江苏港口针叶原</div>
<div class="t para" style="left:76.0px;top:1426.6px;">木日均出库量为<i class="h2">0</i><i class="h2 hl">.</i><i class="h2">2</i><i class="h2">1</i>万方，较上周减少<i class="h2">8</i><i class="h2">3</i><i class="h2 hl">.</i><i class="h2">7</i><i class="h2">2</i><i class="h2 hpc">%</i>。</div>
<div class="t para" style="left:76.0px;top:1538.0px;"><i class="h2">2</i>月<i class="h2">2</i><i class="h2">5</i>日，原木主力合约收盘于<i class="h2">7</i><i class="h2">9</i><i class="h2">6</i>元，当日上涨<i class="h2">0</i><i class="h2 hl">.</i><i class="h2">8</i><i class="h2">9</i><i class="h2 hpc">%</i>，价格延续反弹态势，持仓量大幅增加。</div>
<div class="t para" style="left:76.0px;top:1564.9px;">基本面看，供应端存在增量压力，而下游需求表现相对疲软，这对短期价格形成压制；但上游</div>
<div class="t para" style="left:76.0px;top:1591.8px;">成本持续上涨，为价格提供了坚实的底部支撑。当前市场正密切关注节后下游需求的复工节</div>
<div class="t para" style="left:76.0px;top:1618.6px;">奏，若需求能如期回暖，价格有望获得进一步上行动力。操作上，鉴于价格已脱离前期低位，</div>
<div class="t para" style="left:76.0px;top:1645.5px;">可考虑在成本支撑位上方逢低布局多单，但需警惕若需求复苏不及预期，价格可能再次承压，</div>
<div class="t para" style="left:76.0px;top:1672.4px;">下方关键支撑参考<i class="h2">7</i><i class="h2">9</i><i class="h2">0</i>元一线。</div>
<div class="t foot" style="left:16.0px;top:1727.5px;">中原期货研究咨询部</div>
<div class="t foot" style="left:223.0px;top:1727.5px;">农产品组</div>
<div class="t foot" style="left:16.0px;top:1752.5px;">作者：杨江涛</div>
<div class="t foot" style="left:178.0px;top:1752.5px;">从业证书：<i class="h2 hal">F</i><i class="h2">0</i><i class="h2">3</i><i class="h2">1</i><i class="h2">1</i><i class="h2">7</i><i class="h2">2</i><i class="h2">4</i><i class="h2">9</i></div>
<div class="t foot" style="left:382.5px;top:1752.5px;">投资咨询：<i class="h2 hal">Z</i><i class="h2">0</i><i class="h2">0</i><i class="h2">2</i><i class="h2">2</i><i class="h2">6</i><i class="h2">4</i><i class="h2">4</i></div>
<div class="t foot" style="left:607.5px;top:1752.5px;">联系方式<i class="h2 hl">:</i><i class="h2">0</i><i class="h2">3</i><i class="h2">7</i><i class="h2">1</i><i class="h2 hmn">-</i><i class="h2">5</i><i class="h2">8</i><i class="h2">6</i><i class="h2">2</i><i class="h2">0</i><i class="h2">0</i><i class="h2">8</i><i class="h2">2</i></div>
<div class="t disc" style="left:469.5px;top:1795.0px;">免责声明</div>
<div class="t disc" style="left:16.0px;top:1834.5px;">本报告中的信息由中原期货整理分析，均来源于已公开的资料，报告中的信息分析或所表达的意见并</div>
<div class="t disc" style="left:16.0px;top:1861.8px;">不构成对投资的建议，投资者因报告意见所做的判断，以及有可能产生的损失自行承担。期货交易有</div>
<div class="t disc" style="left:16.0px;top:1889.1px;">风险，投资者申请开立期货账户须满足证券期货投资者适当性要求，具备匹配的风险承受能力。</div>
</body></html>
